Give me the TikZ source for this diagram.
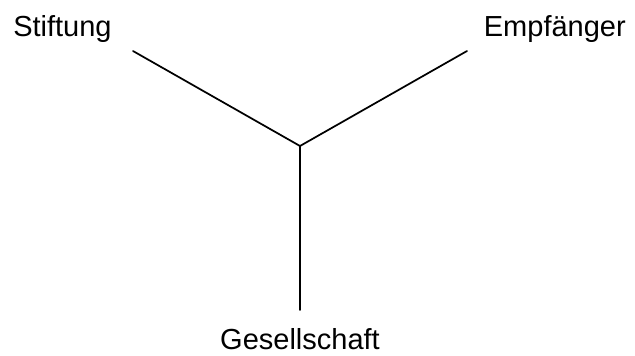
\documentclass[tikz,border=0pt]{standalone}
\usepackage{fontspec}
\setmainfont{Liberation Sans}
\usetikzlibrary{positioning}

\begin{document}
\begin{tikzpicture}[
        x=0.75pt, y=-0.75pt,
        label/.style={inner sep=0pt, font=\fontsize{21.75pt}{26pt}\selectfont},
        edge/.style={line width=1.3pt, line cap=round}
    ]

    % Frame of the picture
    \useasboundingbox (0,0) rectangle (635,355);

    % Labels
    \node[label, anchor=base west] (stiftung) at (13,36) {Stiftung};
    \node[label, anchor=base east] (empfaenger) at (626,36) {Empfänger};
    \node[label, anchor=base] (gesellschaft) at (300,349) {Gesellschaft};

    % Line ends
    \coordinate (mid) at (300,146);
    \coordinate (s) at (133,51);
    \coordinate (e) at (467,51);
    \coordinate (g) at (300,310);

    % Lines
    \draw[edge] (s) -- (mid);
    \draw[edge] (e) -- (mid);
    \draw[edge] (mid) -- (g);

\end{tikzpicture}
\end{document}
